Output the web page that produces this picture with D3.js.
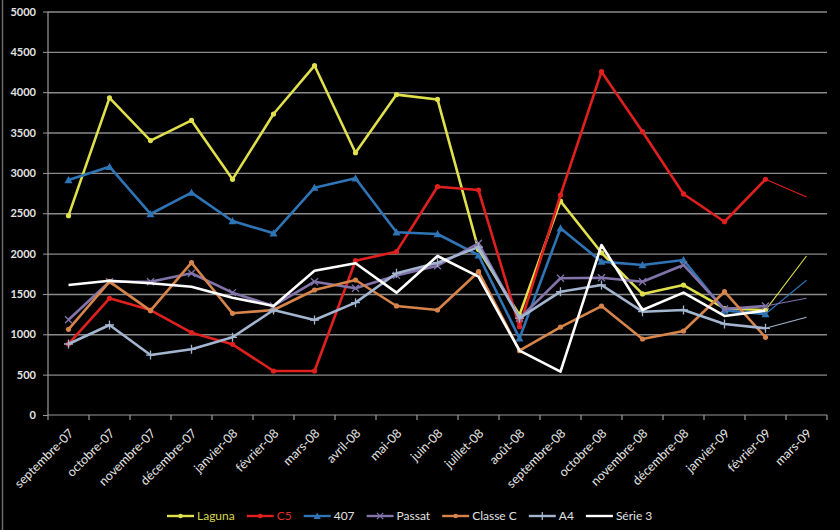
<!DOCTYPE html>
<html>
<head>
<meta charset="utf-8">
<script src="https://cdnjs.cloudflare.com/ajax/libs/d3/7.8.5/d3.min.js"></script>
<style>
html,body{margin:0;padding:0;background:#000;}
svg{display:block;}
</style>
</head>
<body>
<svg id="chart" width="840" height="530"></svg>
<script>
const categories = ["septembre-07","octobre-07","novembre-07","décembre-07","janvier-08","février-08","mars-08","avril-08","mai-08","juin-08","juillet-08","août-08","septembre-08","octobre-08","novembre-08","décembre-08","janvier-09","février-09","mars-09"];
const yTicks = [0,500,1000,1500,2000,2500,3000,3500,4000,4500,5000];

const laguna  = [2470,3930,3400,3650,2920,3730,4330,3250,3970,3910,2050,1240,2650,2010,1500,1610,1320,1300,1970];
const c5      = [880,1446,1300,1020,876,545,545,1912,2024,2829,2788,1094,2726,4254,3511,2739,2395,2921,2700];
const p407    = [2912,3077,2491,2755,2404,2251,2817,2933,2264,2243,1980,950,2313,1900,1859,1921,1295,1251,1670];
const passat  = [1180,1652,1652,1756,1516,1351,1652,1570,1730,1850,2128,1198,1694,1700,1652,1859,1313,1351,1446];
const classeC = [1062,1652,1293,1887,1260,1301,1549,1673,1351,1301,1776,797,1090,1350,942,1041,1528,963,null];
const a4      = [880,1115,743,814,963,1301,1177,1392,1756,1887,2080,1200,1528,1611,1280,1301,1128,1074,1211];
const serie3  = [1611,1664,1632,1590,1454,1351,1788,1880,1516,1970,1714,797,537,2107,1301,1516,1227,1293,null];

const seriesNames  = ["Laguna","C5","407","Passat","Classe C","A4","Série 3"];
const seriesValues = [laguna,c5,p407,passat,classeC,a4,serie3];
const seriesColors = ["#E0E04C","#E0201E","#2F74B5","#8273AA","#D7844B","#A3B5CF","#FFFFFF"];
const seriesMarkers = ["dot","dot","triangle","x","dot","plus","none"];
const legendTextColors = ["#D8D84E","#E0302A","#E0E0E0","#E0E0E0","#E0E0E0","#E0E0E0","#E0E0E0"];

(function(){
const svg = d3.select("#chart");
const W = 840, H = 530;
const pLeft = 48, pRight = 827, pTop = 11.5, pBottom = 415;
const FONT = "Lato, 'Open Sans', sans-serif";

svg.append("rect").attr("width",W).attr("height",H).attr("fill","#000");
svg.append("line").attr("x1",2.5).attr("x2",2.5).attr("y1",0).attr("y2",H).attr("stroke","#6a6a6a").attr("stroke-width",1.5);

const x = d3.scaleBand().domain(categories).range([pLeft,pRight]).padding(0);
const y = d3.scaleLinear().domain([0,5000]).range([pBottom,pTop]);

// gridlines
const grid = svg.append("g").attr("transform",`translate(${pLeft},0)`)
  .call(d3.axisLeft(y).tickValues(yTicks.filter(v=>v>0)).tickSize(-(pRight-pLeft)).tickFormat(""));
grid.select(".domain").remove();
grid.selectAll("line").attr("stroke","#8a8a8a").attr("stroke-width",1.4);

// y axis
const yAx = svg.append("g").attr("transform",`translate(${pLeft},0)`)
  .call(d3.axisLeft(y).tickValues(yTicks).tickSize(5).tickPadding(7).tickFormat(d3.format("d")));
yAx.select(".domain").attr("stroke","#9a9a9a").attr("stroke-width",1.2).attr("d",`M0,${pTop}V${pBottom}`);
yAx.selectAll("line").attr("stroke","#9a9a9a");
yAx.selectAll("text").attr("fill","#E4E4E4").style("font-family",FONT).style("font-size","11px").style("font-weight","bold");

// x axis
const xAx = svg.append("g").attr("transform",`translate(0,${pBottom})`)
  .call(d3.axisBottom(x).tickSize(0).tickPadding(0));
xAx.select(".domain").attr("stroke","#9a9a9a").attr("stroke-width",1.2).attr("d",`M${pLeft},0H${pRight}`);
xAx.selectAll(".tick text")
  .attr("fill","#E4E4E4").style("font-family",FONT).style("font-size","12.5px")
  .attr("text-anchor","end").attr("dy",null).attr("y",null)
  .attr("transform","translate(6,19) rotate(-45)");
// boundary tick marks
const bounds = categories.map(c=>x(c)).concat([x(categories[categories.length-1])+x.bandwidth()]);
svg.append("g").selectAll("line").data(bounds).join("line")
  .attr("x1",d=>d).attr("x2",d=>d).attr("y1",pBottom).attr("y2",pBottom+5)
  .attr("stroke","#9a9a9a").attr("stroke-width",1.2);

const cx = i => x(categories[i]) + x.bandwidth()/2;

function drawMarker(g, type, color, px, py, size){
  const s = size||1;
  if(type==="dot"){
    g.append("circle").attr("cx",px).attr("cy",py).attr("r",2.6*s).attr("fill",color);
  } else if(type==="triangle"){
    const h=4*s;
    g.append("path").attr("d",`M${px},${py-h}L${px+h},${py+h*0.8}L${px-h},${py+h*0.8}Z`).attr("fill",color);
  } else if(type==="x"){
    const h=3.5*s;
    g.append("path").attr("d",`M${px-h},${py-h}L${px+h},${py+h}M${px-h},${py+h}L${px+h},${py-h}`).attr("stroke",color).attr("stroke-width",1.3);
  } else if(type==="plus"){
    const h=4.5*s;
    g.append("path").attr("d",`M${px-h},${py}L${px+h},${py}M${px},${py-h}L${px},${py+h}`).attr("stroke",color).attr("stroke-width",1.3);
  }
}

const last = categories.length-1;
seriesValues.forEach((vals,si)=>{
  const color = seriesColors[si];
  const g = svg.append("g");
  const main = vals.slice(0,last).map((v,i)=>({i,v}));
  const line = d3.line().defined(d=>d.v!=null).x(d=>cx(d.i)).y(d=>y(d.v));
  g.append("path").attr("d",line(main)).attr("fill","none").attr("stroke",color)
    .attr("stroke-width",2.6).attr("stroke-linejoin","round");
  if(vals[last]!=null && vals[last-1]!=null){
    g.append("path").attr("d",line([{i:last-1,v:vals[last-1]},{i:last,v:vals[last]}]))
      .attr("fill","none").attr("stroke",color).attr("stroke-width",1.1);
  }
  main.forEach(d=>{ if(d.v!=null) drawMarker(g, seriesMarkers[si], color, cx(d.i), y(d.v)); });
});

// legend
const lg = svg.append("g").attr("transform","translate(0,516)");
let lx = 167;
seriesNames.forEach((name,si)=>{
  const color = seriesColors[si];
  lg.append("line").attr("x1",lx).attr("x2",lx+27).attr("y1",0).attr("y2",0).attr("stroke",color).attr("stroke-width",2.4);
  drawMarker(lg, seriesMarkers[si], color, lx+13.5, 0, 0.9);
  const t = lg.append("text").attr("x",lx+30).attr("y",4).text(name)
    .attr("fill",legendTextColors[si]).style("font-family",FONT).style("font-size","12px");
  const w = t.node().getComputedTextLength();
  lx = lx + 30 + w + 12;
});
})();
</script>
</body>
</html>
